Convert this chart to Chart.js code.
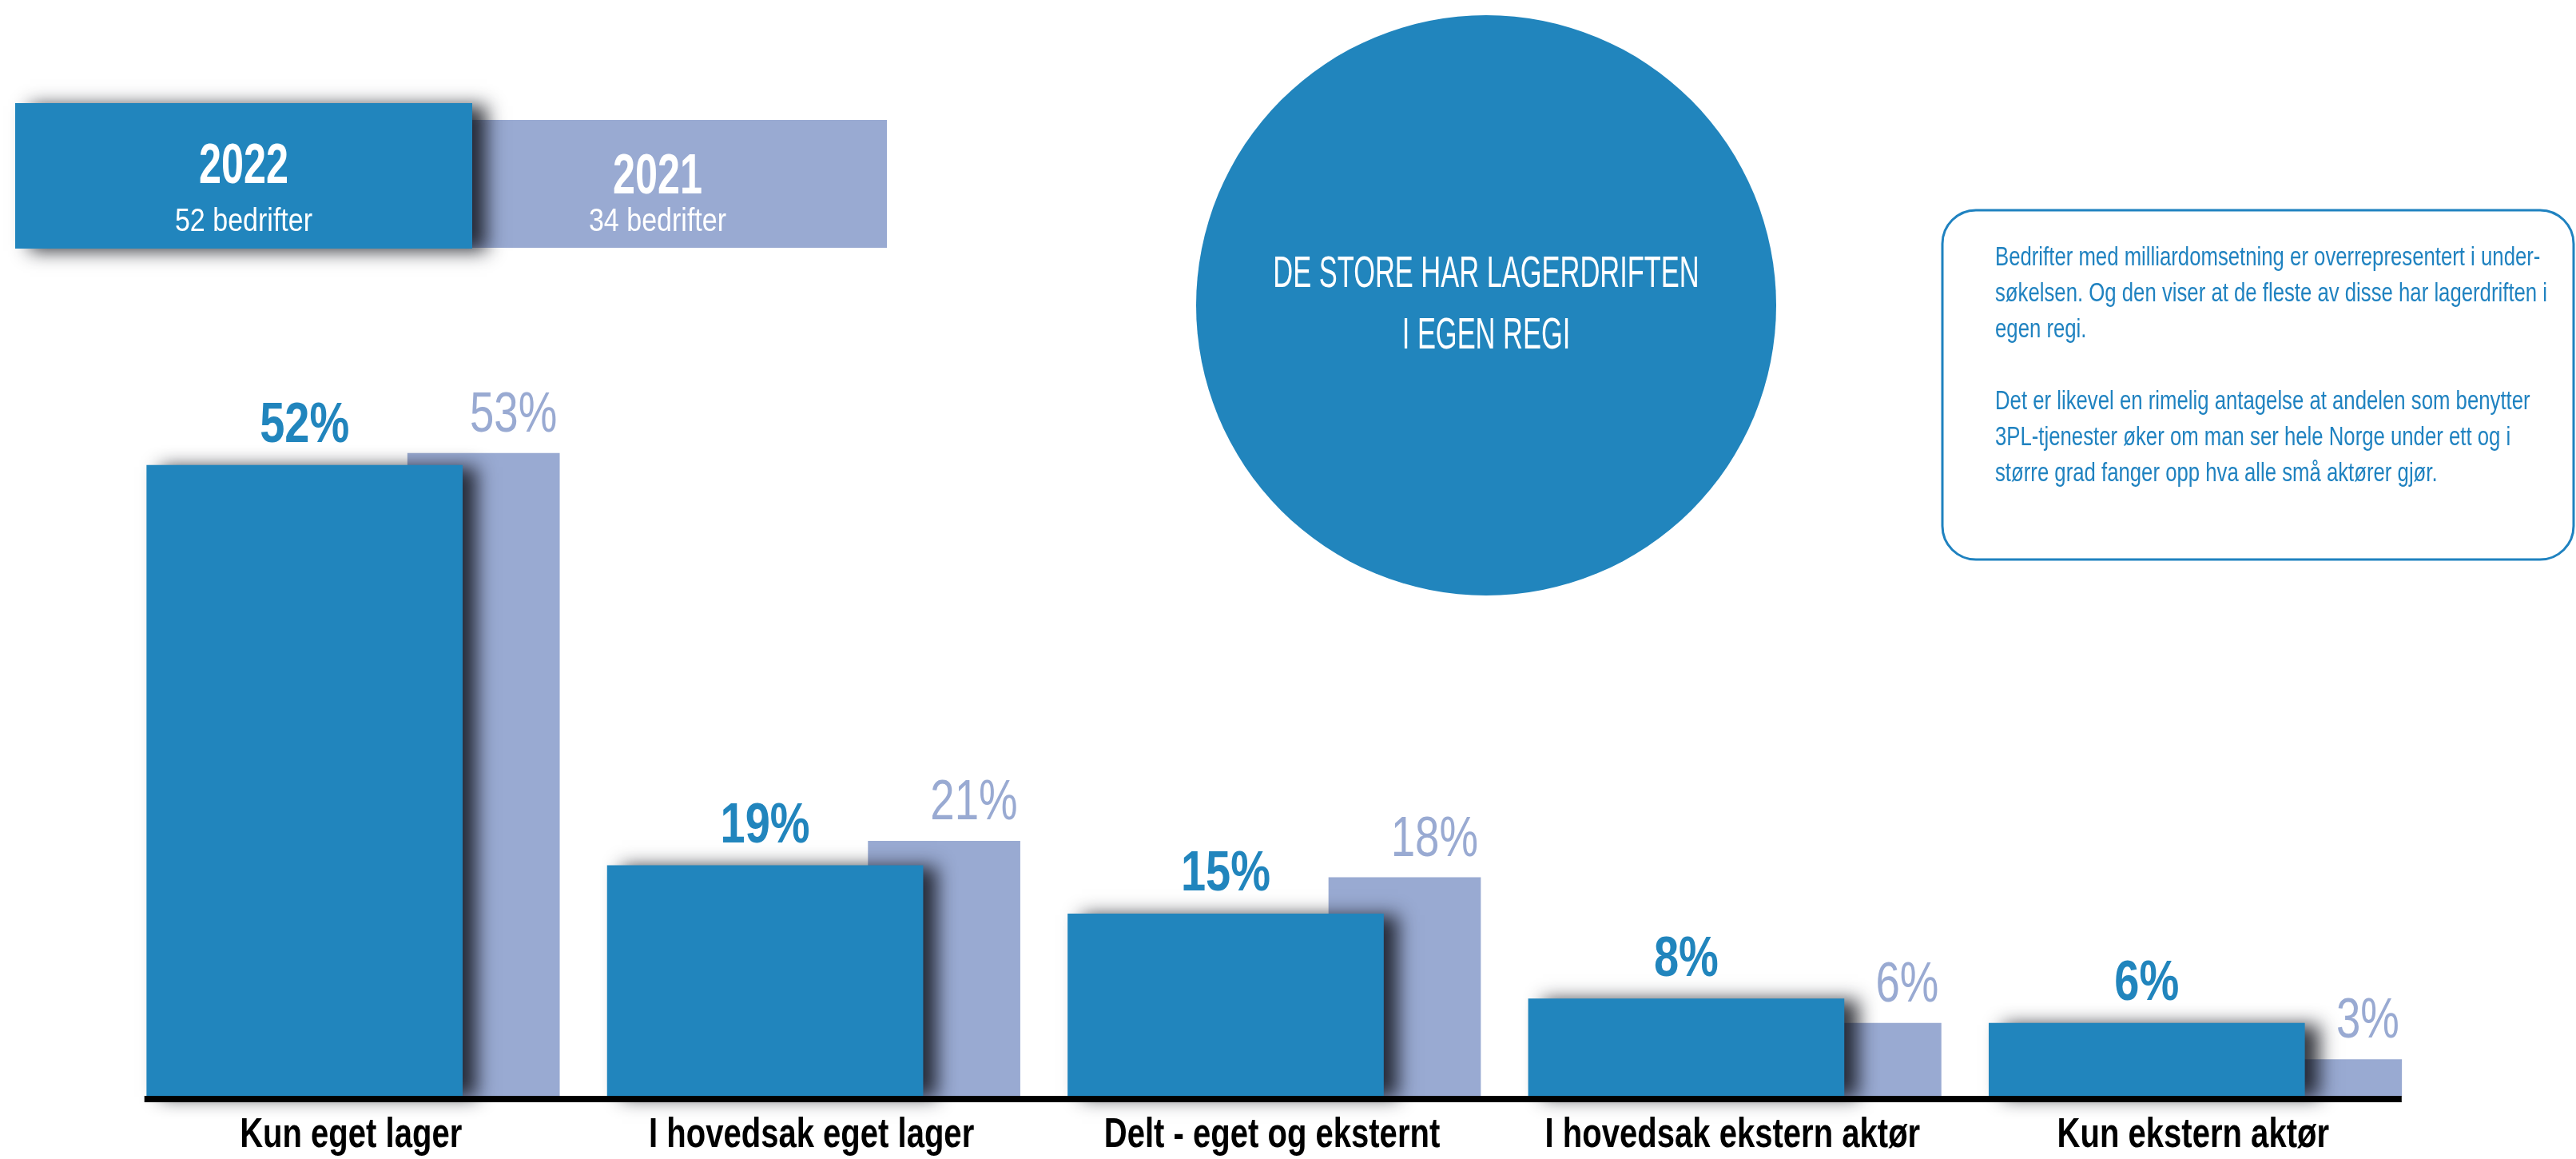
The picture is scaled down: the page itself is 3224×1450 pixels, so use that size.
<!DOCTYPE html>
<html>
<head>
<meta charset="utf-8">
<script src="https://cdn.jsdelivr.net/npm/chart.js@4.4.1/dist/chart.umd.min.js"></script>
<style>
html,body{margin:0;padding:0;background:#ffffff;overflow:hidden;width:3224px;height:1450px;}
canvas{display:block;}
</style>
</head>
<body>
<canvas id="c" width="3224" height="1450"></canvas>
<script>
// ---------- data ----------
const categories = ['Kun eget lager', 'I hovedsak eget lager', 'Delt - eget og eksternt', 'I hovedsak ekstern aktør', 'Kun ekstern aktør'];
const seriesYears = ['2022', '2021'];
const seriesCompanies = ['52 bedrifter', '34 bedrifter'];
const values2022 = [52, 19, 15, 8, 6];
const values2021 = [53, 21, 18, 6, 3];
const yAxisMax = 80;
const circleLines = ['DE STORE HAR LAGERDRIFTEN', 'I EGEN REGI'];
const noteLines = [
  'Bedrifter med milliardomsetning er overrepresentert i under-',
  'søkelsen. Og den viser at de fleste av disse har lagerdriften i',
  'egen regi.',
  '',
  'Det er likevel en rimelig antagelse at andelen som benytter',
  '3PL-tjenester øker om man ser hele Norge under ett og i',
  'større grad fanger opp hva alle små aktører gjør.'
];

// ---------- styling / layout ----------
const W = 3224, H = 1450;
const PLOT_L = 151, PLOT_R = 3033, PLOT_T = 157.4, PLOT_B = 1371;
const BLUE = '#2185bd', LAV = '#99aad2', NOTE_BLUE = '#1f82c0';
const FONT = '"Liberation Sans", Arial, sans-serif';
const catW = (PLOT_R - PLOT_L) / categories.length;
const BLUE_SHIFT = -58, LAV_SHIFT = 166;   // px offset from category centre
const BLUE_W = 395, LAV_W = 190;
function shiftedRange(px) {
  const d = px / catW;
  return { min: -0.5 - d, max: categories.length - 0.5 - d };
}

function condText(ctx, txt, x, y, font, color, k, align) {
  ctx.save();
  ctx.font = font;
  ctx.fillStyle = color;
  ctx.textBaseline = 'alphabetic';
  ctx.textAlign = 'left';
  const w = ctx.measureText(txt).width * k;
  let x0 = x;
  if (align === 'center') x0 = x - w / 2;
  else if (align === 'right') x0 = x - w;
  ctx.translate(x0, y);
  ctx.scale(k, 1);
  ctx.fillText(txt, 0, 0);
  ctx.restore();
  return w;
}

function roundRectPath(ctx, x, y, w, h, r) {
  ctx.beginPath();
  ctx.moveTo(x + r, y);
  ctx.lineTo(x + w - r, y);
  ctx.arcTo(x + w, y, x + w, y + r, r);
  ctx.lineTo(x + w, y + h - r);
  ctx.arcTo(x + w, y + h, x + w - r, y + h, r);
  ctx.lineTo(x + r, y + h);
  ctx.arcTo(x, y + h, x, y + h - r, r);
  ctx.lineTo(x, y + r);
  ctx.arcTo(x, y, x + r, y, r);
  ctx.closePath();
}

const decorPlugin = {
  id: 'decor',
  beforeDraw(chart) {
    const ctx = chart.ctx;
    ctx.save();
    ctx.fillStyle = '#ffffff';
    ctx.fillRect(0, 0, W, H);
    // legend boxes
    ctx.fillStyle = LAV;
    ctx.fillRect(536, 150, 574, 160);
    ctx.save();
    ctx.shadowColor = 'rgba(18,20,28,0.85)';
    ctx.shadowBlur = 22;
    ctx.shadowOffsetX = 18;
    ctx.shadowOffsetY = 3;
    ctx.fillStyle = BLUE;
    ctx.fillRect(19, 129, 572, 182);
    ctx.restore();
    condText(ctx, seriesYears[0], 305, 229, 'bold 70px ' + FONT, '#ffffff', 0.72, 'center');
    condText(ctx, seriesCompanies[0], 305, 289, '41px ' + FONT, '#ffffff', 0.83, 'center');
    condText(ctx, seriesYears[1], 823, 242, 'bold 70px ' + FONT, '#ffffff', 0.72, 'center');
    condText(ctx, seriesCompanies[1], 823, 289, '41px ' + FONT, '#ffffff', 0.83, 'center');
    // circle
    ctx.fillStyle = BLUE;
    ctx.beginPath();
    ctx.arc(1860, 382, 363, 0, Math.PI * 2);
    ctx.fill();
    condText(ctx, circleLines[0], 1860, 359, '56px ' + FONT, '#ffffff', 0.615, 'center');
    condText(ctx, circleLines[1], 1860, 436, '56px ' + FONT, '#ffffff', 0.615, 'center');
    // note box
    ctx.strokeStyle = NOTE_BLUE;
    ctx.lineWidth = 3;
    roundRectPath(ctx, 2431, 263, 790, 437, 42);
    ctx.stroke();
    noteLines.forEach((ln, i) => {
      if (ln) condText(ctx, ln, 2497, 332 + 45 * i, '33px ' + FONT, NOTE_BLUE, 0.78, 'left');
    });
    ctx.restore();
  },
  beforeDatasetDraw(chart, args) {
    if (args.index === 0) {
      const ctx = chart.ctx;
      ctx.save();
      ctx.shadowColor = 'rgba(18,20,28,0.85)';
      ctx.shadowBlur = 22;
      ctx.shadowOffsetX = 18;
      ctx.shadowOffsetY = 2;
    }
  },
  afterDatasetDraw(chart, args) {
    if (args.index === 0) chart.ctx.restore();
  },
  afterDatasetsDraw(chart) {
    const ctx = chart.ctx;
    const mB = chart.getDatasetMeta(0).data;
    const mL = chart.getDatasetMeta(1).data;
    // baseline
    const x0 = mB[0].x - mB[0].width / 2;
    const last = mL[mL.length - 1];
    const x1 = last.x + last.width / 2;
    ctx.save();
    ctx.fillStyle = '#000000';
    ctx.fillRect(x0 - 3, chart.chartArea.bottom, x1 - x0 + 3, 8);
    ctx.restore();
    // value labels
    mB.forEach((el, i) => {
      condText(ctx, values2022[i] + '%', el.x, el.y - 29, 'bold 70px ' + FONT, BLUE, 0.8, 'center');
    });
    mL.forEach((el, i) => {
      condText(ctx, values2021[i] + '%', el.x + el.width / 2 - 3, el.y - 27, '70px ' + FONT, LAV, 0.78, 'right');
    });
  }
};

const tickSqueeze = {
  id: 'tickSqueeze',
  beforeDraw(chart) {
    const s = chart.scales.x;
    const ctx = chart.ctx;
    const items = s.getLabelItems();
    ctx.save();
    items.forEach(it => {
      const f = it.font || {};
      ctx.font = f.string || ('bold 52px ' + FONT);
      const w = ctx.measureText(String(it.label)).width;
      const o = it.options || it;
      o.maxWidth = w * 0.77;
    });
    ctx.restore();
  }
};

new Chart(document.getElementById('c').getContext('2d'), {
  type: 'bar',
  data: {
    labels: categories,
    datasets: [
      {
        label: seriesYears[0],
        data: values2022.map((v, i) => ({ x: i, y: v })),
        xAxisID: 'xBlue', yAxisID: 'y',
        backgroundColor: BLUE, borderWidth: 0,
        barThickness: BLUE_W, grouped: false, clip: false
      },
      {
        label: seriesYears[1],
        data: values2021.map((v, i) => ({ x: i, y: v })),
        xAxisID: 'xLav', yAxisID: 'y',
        backgroundColor: LAV, borderWidth: 0,
        barThickness: LAV_W, grouped: false, clip: false
      }
    ]
  },
  options: {
    responsive: false,
    animation: false,
    devicePixelRatio: 1,
    layout: { padding: { left: PLOT_L, right: W - PLOT_R, top: PLOT_T, bottom: 0 } },
    plugins: { legend: { display: false }, tooltip: { enabled: false }, title: { display: false } },
    scales: {
      x: {
        type: 'category', position: 'bottom', offset: true,
        grid: { display: false, drawTicks: false },
        border: { display: false },
        ticks: {
          autoSkip: false, maxRotation: 0, minRotation: 0, padding: 18,
          color: '#000000', font: { family: FONT, size: 52, weight: 'bold', lineHeight: 1.2 }
        },
        afterFit: s => { s.height = H - PLOT_B; }
      },
      xBlue: Object.assign({ type: 'linear', display: false, offset: false }, shiftedRange(BLUE_SHIFT)),
      xLav: Object.assign({ type: 'linear', display: false, offset: false }, shiftedRange(LAV_SHIFT)),
      y: { type: 'linear', display: false, min: 0, max: yAxisMax }
    }
  },
  plugins: [decorPlugin, tickSqueeze]
});
</script>
</body>
</html>
